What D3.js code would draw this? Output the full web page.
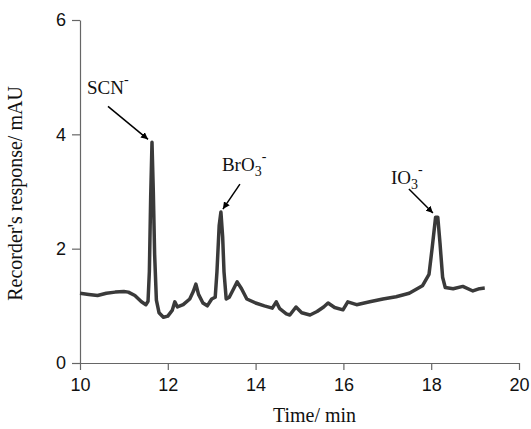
<!DOCTYPE html>
<html>
<head>
<meta charset="utf-8">
<script src="https://cdn.jsdelivr.net/npm/d3@7"></script>
<style>
body { margin: 0; background: #fff; }
</style>
</head>
<body>
<svg width="531" height="429"></svg>
<script>
/* chromatogram trace */
var times = [10.00, 10.2, 10.4, 10.6, 10.8, 11.0, 11.1, 11.25, 11.4, 11.5, 11.55, 11.58, 11.61, 11.64, 11.67, 11.70, 11.74, 11.8, 11.9, 12.0, 12.1, 12.16, 12.22, 12.35, 12.5, 12.58, 12.64, 12.7, 12.8, 12.9, 13.0, 13.08, 13.12, 13.17, 13.21, 13.25, 13.28, 13.33, 13.4, 13.5, 13.58, 13.68, 13.8, 14.0, 14.2, 14.38, 14.47, 14.55, 14.7, 14.78, 14.92, 15.05, 15.24, 15.4, 15.55, 15.65, 15.8, 15.99, 16.1, 16.3, 16.6, 16.9, 17.2, 17.5, 17.8, 17.95, 18.02, 18.1, 18.15, 18.2, 18.26, 18.32, 18.5, 18.72, 18.95, 19.1, 19.22];
var response = [1.22, 1.20, 1.18, 1.22, 1.24, 1.25, 1.24, 1.18, 1.07, 1.02, 1.08, 1.6, 2.9, 3.86, 3.0, 1.9, 1.1, 0.88, 0.80, 0.82, 0.92, 1.07, 0.98, 1.02, 1.12, 1.25, 1.38, 1.2, 1.05, 1.0, 1.12, 1.15, 1.6, 2.4, 2.64, 2.2, 1.6, 1.12, 1.15, 1.3, 1.42, 1.3, 1.12, 1.05, 1.0, 0.96, 1.07, 0.95, 0.86, 0.84, 0.98, 0.88, 0.84, 0.9, 0.98, 1.05, 0.97, 0.93, 1.07, 1.02, 1.07, 1.12, 1.16, 1.22, 1.35, 1.55, 2.0, 2.55, 2.55, 2.1, 1.5, 1.32, 1.3, 1.34, 1.26, 1.3, 1.31];

var xTicks = [10, 12, 14, 16, 18, 20];
var yTicks = [0, 2, 4, 6];

// peak labels: name, subscript, time, height of arrow tip
var peakNames = ["SCN", "BrO", "IO"];
var peakSubs = ["", "3", "3"];
var peakTimes = [11.64, 13.21, 18.13];
var peakTops = [3.86, 2.64, 2.57];

var svg = d3.select("svg"),
    margin = {top: 20, right: 12, bottom: 66, left: 80},
    w = +svg.attr("width") - margin.left - margin.right,
    h = +svg.attr("height") - margin.top - margin.bottom;

var xScale = d3.scaleLinear().domain([10, 20]).range([0, w]);
var yScale = d3.scaleLinear().domain([0, 6]).range([h, 0]);

var g = svg.append("g").attr("transform", "translate(" + margin.left + "," + margin.top + ")");

var xAxis = g.append("g")
	.attr("transform", "translate(0," + h + ")")
	.call(d3.axisBottom(xScale).tickValues(xTicks).tickFormat(d3.format("d")).tickSize(7).tickPadding(8).tickSizeOuter(0));
var yAxis = g.append("g")
	.call(d3.axisLeft(yScale).tickValues(yTicks).tickFormat(d3.format("d")).tickSize(8).tickPadding(6).tickSizeOuter(0));

[xAxis, yAxis].forEach(function(a) {
	a.selectAll("path, line").attr("stroke", "#666").attr("stroke-width", 1.2);
	a.selectAll("text").attr("font-family", "Liberation Sans, Arial, sans-serif").attr("font-size", 18).attr("fill", "#111");
});

var lineFunction = d3.line()
	.x(function(d, i) { return xScale(times[i]); })
	.y(function(d) { return yScale(d); });

g.append("path")
	.attr("d", lineFunction(response))
	.attr("stroke", "#3a3a3a")
	.attr("stroke-width", 3.5)
	.attr("stroke-linejoin", "round")
	.attr("fill", "none");

// arrows
svg.append("defs").append("marker")
	.attr("id", "arr")
	.attr("viewBox", "0 0 10 10")
	.attr("refX", 10).attr("refY", 5)
	.attr("markerWidth", 7).attr("markerHeight", 7)
	.attr("markerUnits", "userSpaceOnUse")
	.attr("orient", "auto")
	.append("path").attr("d", "M0,0 L10,5 L0,10 z").attr("fill", "#000");

var arrowFrom = [[-40, -33], [17, -25], [-24, -24]];
var labelAt = [[-61, -45], [-1, -38], [-42, -29]];

peakNames.forEach(function(name, i) {
	var tx = xScale(peakTimes[i]) - 4 * (i == 1 ? -0.5 : 1) , ty = yScale(peakTops[i]) - 3;
	g.append("line")
		.attr("x1", tx + arrowFrom[i][0]).attr("y1", ty + arrowFrom[i][1])
		.attr("x2", tx).attr("y2", ty)
		.attr("stroke", "#000").attr("stroke-width", 1.5)
		.attr("marker-end", "url(#arr)");
	var t = g.append("text")
		.attr("x", tx + labelAt[i][0]).attr("y", ty + labelAt[i][1])
		.attr("font-family", "Liberation Serif, Times New Roman, serif")
		.attr("font-size", 19).attr("fill", "#111");
	t.append("tspan").text(name);
	if (peakSubs[i]) t.append("tspan").attr("dy", 5).attr("font-size", 14).text(peakSubs[i]);
	t.append("tspan").attr("dy", peakSubs[i] ? -15 : -10).attr("font-size", 14).text("-");
});

svg.append("text")
	.attr("transform", "translate(22," + (margin.top + h / 2 + 2) + ") rotate(-90)")
	.attr("text-anchor", "middle")
	.attr("font-family", "Liberation Serif, Times New Roman, serif")
	.attr("font-size", 20).attr("fill", "#111")
	.text("Recorder's response/ mAU");

svg.append("text")
	.attr("x", margin.left + xScale(15) + 15).attr("y", 422)
	.attr("text-anchor", "middle")
	.attr("font-family", "Liberation Serif, Times New Roman, serif")
	.attr("font-size", 20).attr("fill", "#111")
	.text("Time/ min");
</script>
</body>
</html>
